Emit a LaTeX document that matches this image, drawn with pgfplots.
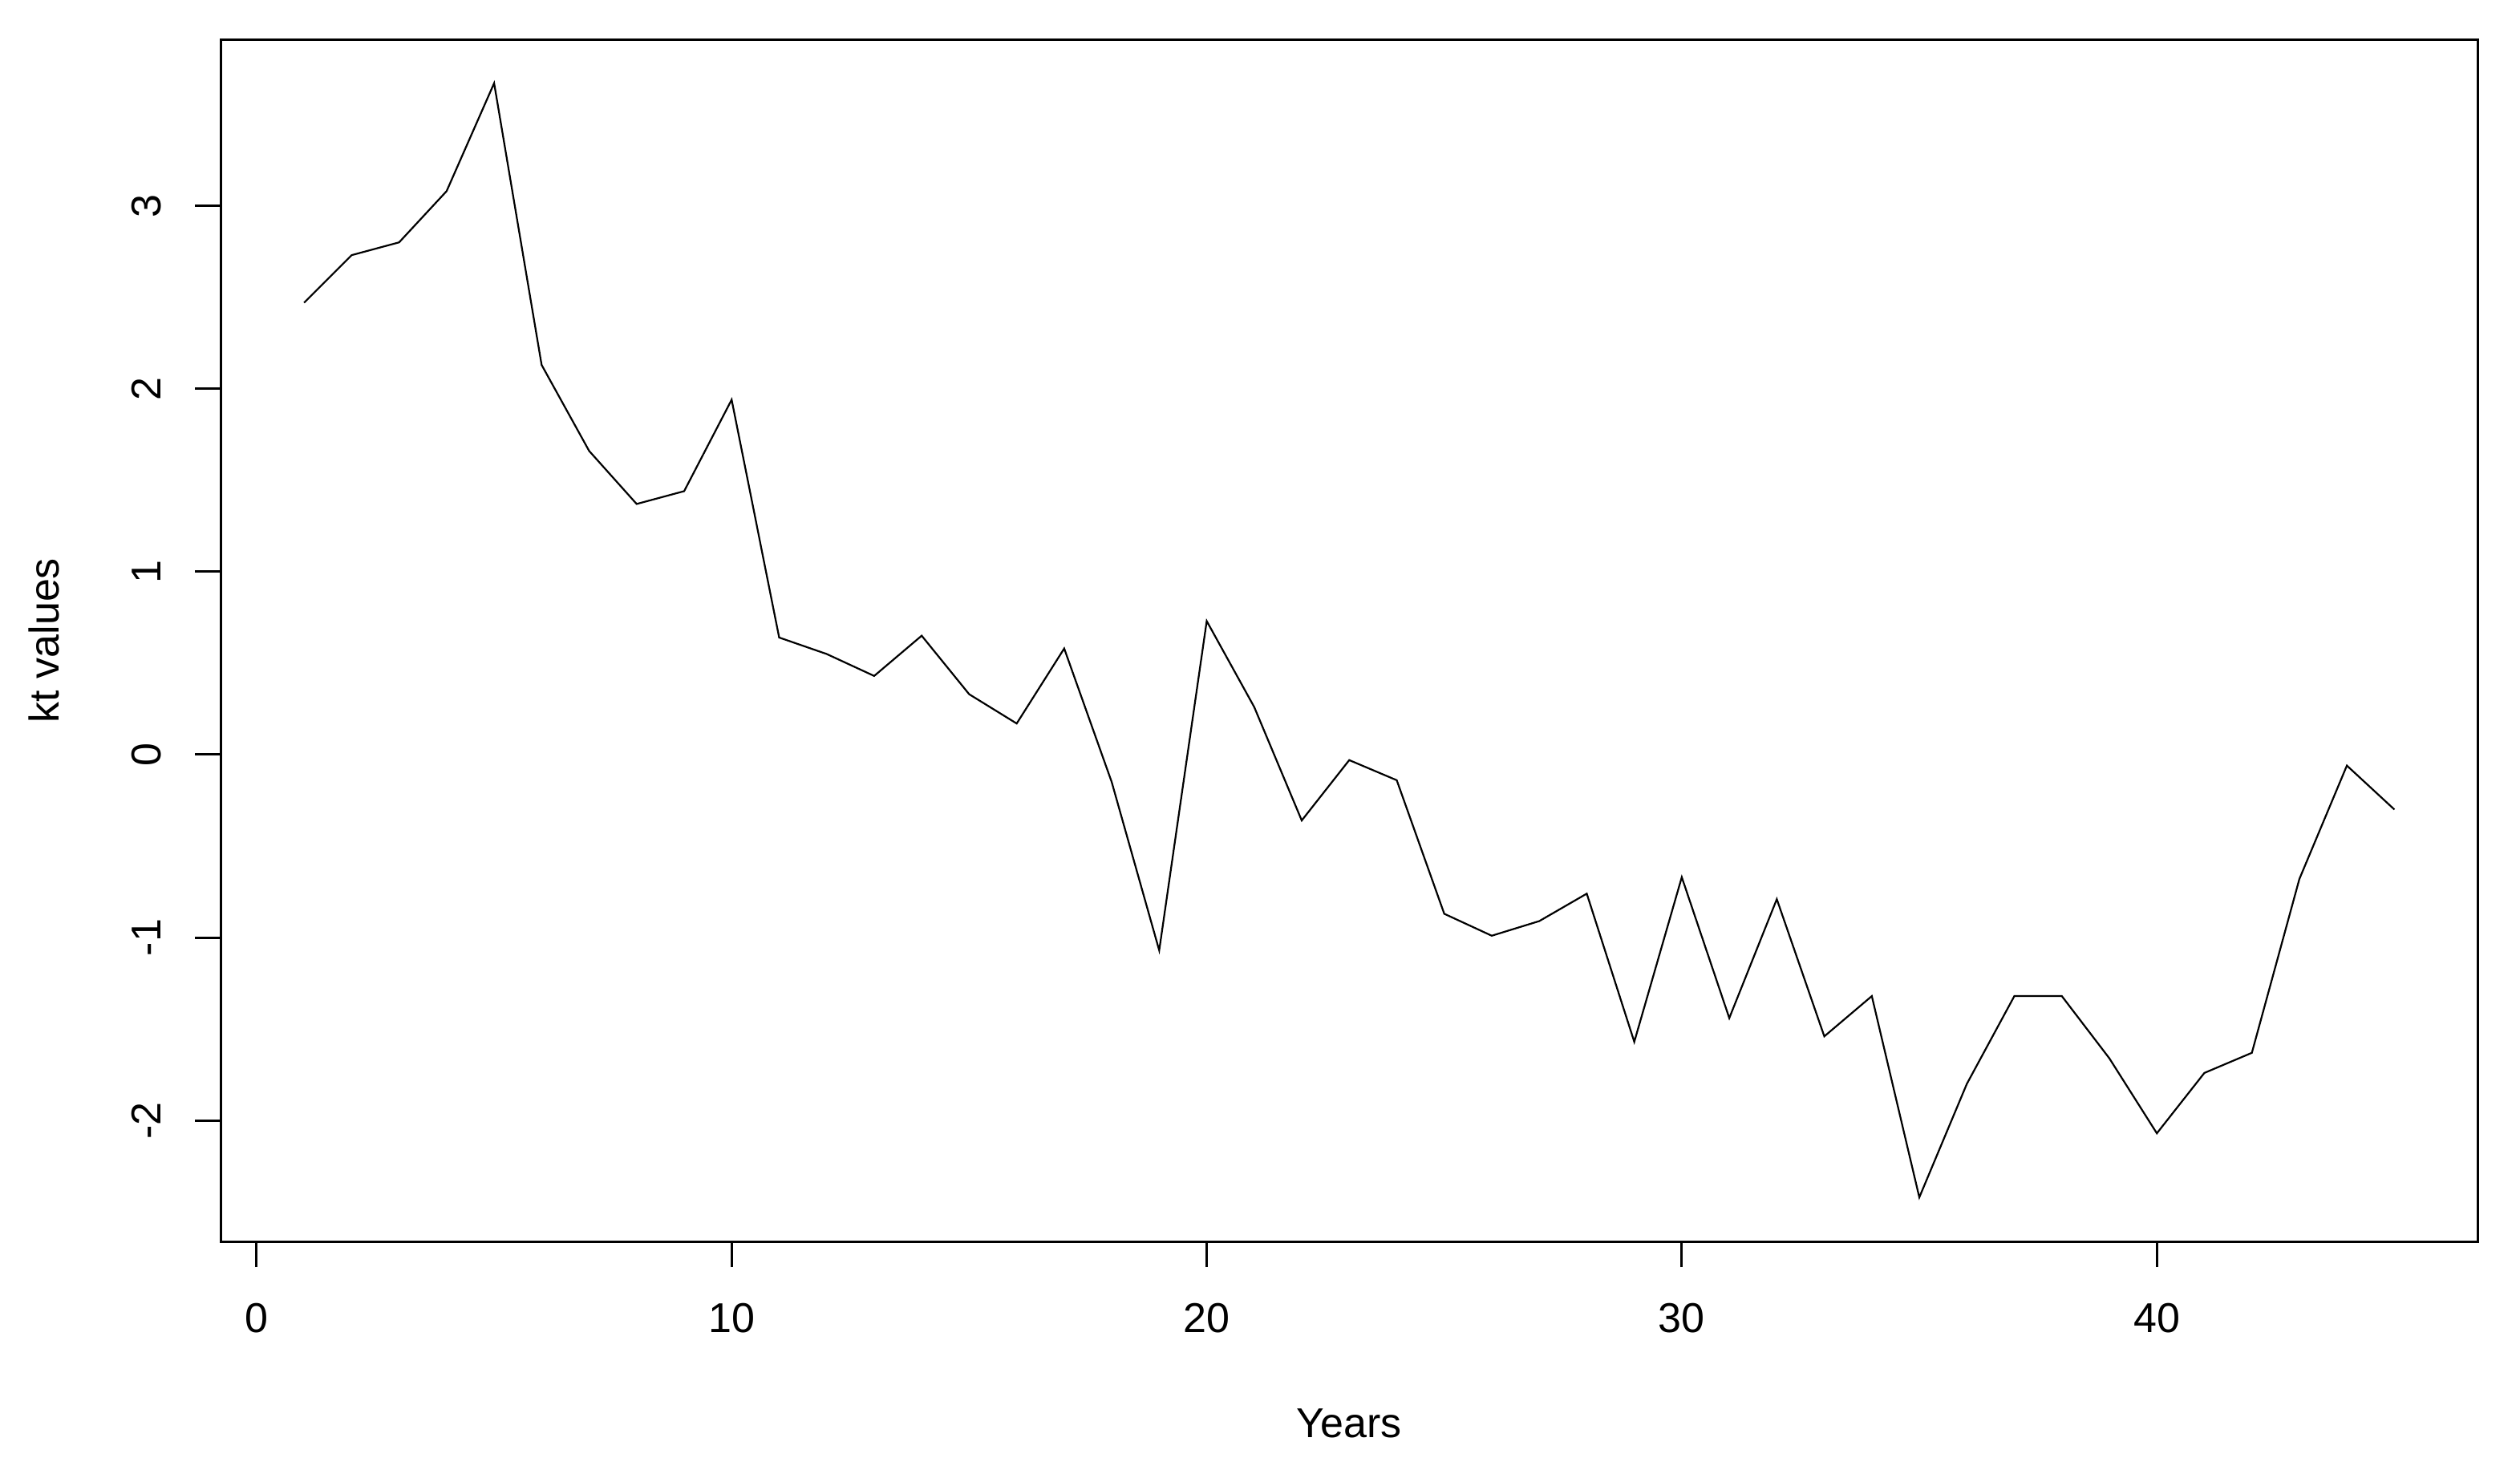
\documentclass[border=0pt]{standalone}
\usepackage{pgfplots}
\pgfplotsset{compat=1.18}
\usepackage{fontspec}
\setmainfont{Liberation Sans}
\begin{document}
\fontsize{13pt}{15.6pt}\selectfont
\begin{tikzpicture}
\useasboundingbox (0,0) rectangle (785.5pt,458.25pt);
\begin{axis}[
 at={(68.8pt,71.25pt)}, anchor=south west,
 scale only axis, width=703.6pt, height=374.7pt,
 xmin=-0.755, xmax=46.76, ymin=-2.661, ymax=3.909,
 xtick={0,10,20,30,40}, ytick={-2,-1,0,1,2,3},
 tick align=outside, xtick pos=bottom, ytick pos=left,
 major tick length=8pt,
 every tick/.style={black, line width=0.75pt},
 axis line style={line width=0.75pt},
 tick label style={font=\fontsize{13pt}{15.6pt}\selectfont, inner sep=0pt},
 /pgf/number format/assume math mode=true,
 xticklabel style={anchor=base},
 xticklabel shift=20.25pt,
 yticklabel style={rotate=90, anchor=base},
 yticklabel shift=10.6pt,
 xlabel={Years},
 xlabel style={at={(axis description cs:0.5,-0.1628)}, anchor=base, inner sep=0pt, font=\fontsize{13pt}{15.6pt}\selectfont},
 ylabel={kt values},
 ylabel style={at={(axis description cs:-0.0718,0.5)}, anchor=base, rotate=0, inner sep=0pt, font=\fontsize{13pt}{15.6pt}\selectfont},
]
\addplot[black, line width=0.55pt] coordinates {
(1,2.47) (2,2.73) (3,2.80) (4,3.08) (5,3.67) (6,2.13) (7,1.66) (8,1.37) (9,1.44) (10,1.94)
(11,0.64) (12,0.55) (13,0.43) (14,0.65) (15,0.33) (16,0.17) (17,0.58) (18,-0.15) (19,-1.07) (20,0.73)
(21,0.26) (22,-0.36) (23,-0.03) (24,-0.14) (25,-0.87) (26,-0.99) (27,-0.91) (28,-0.76) (29,-1.57) (30,-0.67)
(31,-1.44) (32,-0.79) (33,-1.54) (34,-1.32) (35,-2.42) (36,-1.80) (37,-1.32) (38,-1.32) (39,-1.66) (40,-2.07)
(41,-1.74) (42,-1.63) (43,-0.68) (44,-0.06) (45,-0.30)
};
\end{axis}
\end{tikzpicture}
\end{document}
